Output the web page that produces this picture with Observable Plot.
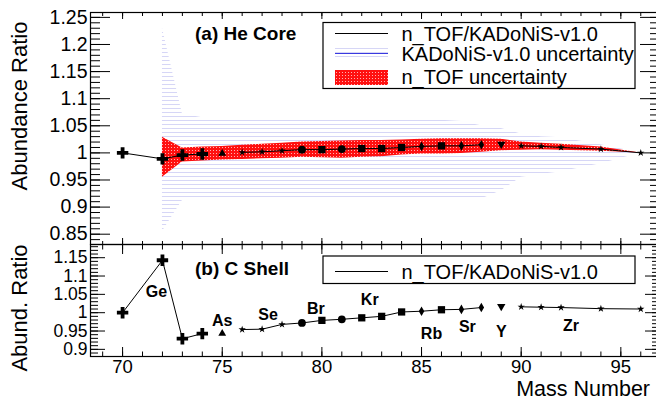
<!DOCTYPE html>
<html><head><meta charset="utf-8">
<script src="https://cdn.jsdelivr.net/npm/d3@7"></script>
<script src="https://cdn.jsdelivr.net/npm/@observablehq/plot@0.6"></script>
<style>
body{margin:0;background:#fff;}
#chart{position:relative;width:656px;height:401px;overflow:hidden;font-family:"Liberation Sans",Arial,sans-serif;background:#fff;}
#chart svg{position:absolute;left:0;}
</style></head><body><div id="chart"></div>
<script>
// ---- data ----
const massNumber   = [70,72,73,74,75,76,77,78,79,80,81,82,83,84,85,86,87,88,89,90,91,92,94,96];
const markerSymbol = ["cross","cross","cross","cross","triangle","star","star","star","circle","square","circle","square","square","square","diamond","square","diamond","diamond","triangleDown","star","star","star","star","star"];
const lineSegment  = [1,1,1,1,2,3,3,3,3,3,3,3,3,3,3,3,3,3,4,5,5,5,5,5];
const heCoreRatio  = [1.000,0.989,0.996,0.998,0.999,1.001,1.002,1.004,1.006,1.006,1.007,1.008,1.008,1.010,1.012,1.013,1.013,1.015,1.016,1.013,1.012,1.010,1.007,1.000];
const nTOFHigh     = [null,1.029,1.009,1.011,1.012,1.014,1.016,1.018,1.020,1.021,1.022,1.023,1.023,1.024,1.025,1.026,1.026,1.026,1.025,1.020,1.018,1.016,1.011,1.000];
const nTOFLow      = [null,0.955,0.983,0.985,0.987,0.988,0.989,0.990,0.992,0.991,0.990,0.992,0.993,0.996,0.998,0.998,0.999,1.001,1.004,1.005,1.006,1.005,1.003,1.000];
const kadonisHigh  = [null,1.230,1.072,1.065,1.062,1.060,1.060,1.060,1.060,1.060,1.060,1.060,1.060,1.060,1.060,1.060,1.058,1.050,1.045,1.035,1.030,1.028,1.015,1.000];
const kadonisLow   = [null,0.855,0.912,0.915,0.915,0.915,0.915,0.915,0.915,0.915,0.915,0.915,0.915,0.915,0.915,0.915,0.913,0.915,0.930,0.955,0.960,0.965,0.980,1.000];
const cShellRatio  = [1.000,1.143,0.929,0.943,0.943,0.954,0.955,0.968,0.972,0.979,0.982,0.986,0.990,1.002,1.004,1.008,1.009,1.014,1.017,1.016,1.015,1.014,1.011,1.010];
const elementNames      = ["Ge","As","Se","Br","Kr","Rb","Sr","Y","Zr"];
const elementLabelMass  = [71.7,75,77.3,79.7,82.4,85.5,87.3,89,92.5];
const elementLabelRatio = [1.056,0.979,0.993,1.011,1.034,0.943,0.961,0.947,0.963];
const xTickLabels       = [70,75,80,85,90,95];
const yTickLabelsTop    = [0.85,0.9,0.95,1,1.05,1.1,1.15,1.2,1.25];
const yTickLabelsBottom = [0.9,0.95,1,1.05,1.1,1.15];
const xDomain = [68.39, 96.94];
const yDomainTop = [0.831, 1.259];
const yDomainBottom = [0.8805, 1.186];

const rows = massNumber.map((m,i)=>({mass:m, marker:markerSymbol[i], seg:lineSegment[i],
  he:heCoreRatio[i], nHi:nTOFHigh[i], nLo:nTOFLow[i], kHi:kadonisHigh[i], kLo:kadonisLow[i], c:cShellRatio[i]}));
const labels = elementNames.map((n,i)=>({name:n, mass:elementLabelMass[i], ratio:elementLabelRatio[i]}));

const xMinor = d3.range(69, 97, 1);
const yMinorTop = d3.range(84, 126).map(v=>v/100);
const yMinorBottom = d3.range(89, 119).map(v=>v/100);
const fmt = d => String(+d.toFixed(2));

const markerSize = {cross:4.8, triangle:2.9, star:2.3, circle:3.9, square:4.1, diamond:2.9, triangleDown:3.1};
function dotMarks(yField){
  return Object.keys(markerSize).map(t => Plot.dot(rows.filter(d=>d.marker===t), {
    x:"mass", y:yField, symbol: t==="triangleDown" ? "triangle" : t, rotate: t==="triangleDown" ? 180 : 0,
    r: markerSize[t], fill:"black", stroke:"none"}));
}
function tickMarks(yMajor, yMinor, yLen, xLen, xLenTop, labelSize){
  return [
    Plot.axisY(yMajor, {anchor:"left", tickSize:-yLen[0], text:null, label:null}),
    Plot.axisY(yMinor, {anchor:"left", tickSize:-yLen[1], text:null, label:null}),
    Plot.axisY(yMajor, {anchor:"right", tickSize:-yLen[0], text:null, label:null}),
    Plot.axisY(yMinor, {anchor:"right", tickSize:-yLen[1], text:null, label:null}),
    Plot.axisX(xTickLabels, {anchor:"bottom", tickSize:-xLen[0], text:null, label:null}),
    Plot.axisX(xMinor, {anchor:"bottom", tickSize:-xLen[1], text:null, label:null}),
    Plot.axisX(xTickLabels, {anchor:"top", tickSize:-xLenTop[0], text:null, label:null}),
    Plot.axisX(xMinor, {anchor:"top", tickSize:-xLenTop[1], text:null, label:null}),
    Plot.axisY(yMajor, {anchor:"left", tickSize:0, tickPadding:3, tickFormat:fmt, label:null, fontSize:labelSize})
  ];
}
const baseStyle = {fontFamily:"'Liberation Sans', Arial, sans-serif", fontSize:"19.5px", background:"transparent", overflow:"visible", color:"black"};

// ---- top panel ----
const topPlot = Plot.plot({
  width:656, height:250, marginLeft:90, marginRight:-3, marginTop:12, marginBottom:6,
  style: baseStyle,
  x:{domain:xDomain}, y:{domain:yDomainTop},
  marks:[
    Plot.areaY(rows, {x:"mass", y1:"kLo", y2:"kHi", fill:"url(#hatchBlue)"}),
    Plot.areaY(rows, {x:"mass", y1:"nLo", y2:"nHi", fill:"url(#dotRed)"}),
    Plot.line(rows, {x:"mass", y:"he", z:"seg", stroke:"black", strokeWidth:1}),
    ...dotMarks("he"),
    ...tickMarks(yTickLabelsTop, yMinorTop, [20,10], [6,3], [6,3], 19.5),
    Plot.frame({stroke:"black", strokeWidth:1.2})
  ]
});
const bottomPlot = Plot.plot({
  width:656, height:169, marginLeft:90, marginRight:-3, marginTop:12, marginBottom:45,
  style: baseStyle,
  x:{domain:xDomain}, y:{domain:yDomainBottom},
  marks:[
    Plot.line(rows, {x:"mass", y:"c", z:"seg", stroke:"black", strokeWidth:1}),
    ...dotMarks("c"),
    Plot.text(labels, {x:"mass", y:"ratio", text:"name", fontWeight:"bold", fontSize:16, fill:"black"}),
    ...tickMarks(yTickLabelsBottom, yMinorBottom, [15,8], [9,4.5], [9,4.5], 17.5),
    Plot.axisX(xTickLabels, {anchor:"bottom", tickSize:0, tickPadding:3.3, label:null, fontSize:18.5}),
    Plot.frame({stroke:"black", strokeWidth:1.2})
  ]
});
topPlot.style.top = "0px";
bottomPlot.style.top = "232px";
const chart = document.getElementById("chart");
chart.appendChild(topPlot);
chart.appendChild(bottomPlot);

// patterns
const ts = d3.select(topPlot);
const defs = ts.insert("defs", ":first-child");
const hb = defs.append("pattern").attr("id","hatchBlue").attr("patternUnits","userSpaceOnUse").attr("width",8).attr("height",4);
hb.append("rect").attr("x",0).attr("y",0).attr("width",8).attr("height",1).attr("fill","#d6d6f6");
const dr = defs.append("pattern").attr("id","dotRed").attr("patternUnits","userSpaceOnUse").attr("width",3).attr("height",3);
dr.append("rect").attr("width",3).attr("height",3).attr("fill","#ff1010");
dr.append("rect").attr("x",0).attr("y",0).attr("width",1).attr("height",1).attr("fill","#ffb0b0");

// annotations / legends
function txt(sel, x, y, s, opts={}){
  const t = sel.append("text").attr("x",x).attr("y",y).text(s)
    .attr("font-family","'Liberation Sans', Arial, sans-serif").attr("fill","black")
    .attr("font-size", opts.size||20)
    .attr("text-anchor", opts.anchor || "start");
  if (opts.bold) t.attr("font-weight","bold");
  if (opts.rotate) t.attr("transform", `rotate(${opts.rotate},${x},${y})`);
  return t;
}
txt(ts, 195, 40, "(a) He Core", {bold:true, size:19});
txt(ts, 27, 106, "Abundance Ratio", {size:22, anchor:"middle", rotate:-90});
const lg = ts.append("g");
lg.append("rect").attr("x",323).attr("y",22.5).attr("width",312).attr("height",66).attr("fill","white").attr("stroke","black").attr("stroke-width",1.2);
lg.append("line").attr("x1",335).attr("x2",388).attr("y1",33.5).attr("y2",33.5).attr("stroke","black");
txt(lg, 401.5, 40.5, "n_TOF/KADoNiS-v1.0");
lg.append("rect").attr("x",335).attr("y",48).attr("width",53).attr("height",12).attr("fill","url(#hatchBlue)");
lg.append("line").attr("x1",335).attr("x2",388).attr("y1",53.5).attr("y2",53.5).attr("stroke","#3a3ae0");
txt(lg, 401.5, 60.5, "KADoNiS-v1.0 uncertainty");
lg.append("rect").attr("x",335).attr("y",70).attr("width",53).attr("height",15).attr("fill","url(#dotRed)");
txt(lg, 401.5, 83.5, "n_TOF uncertainty");

const bs = d3.select(bottomPlot);
txt(bs, 195, 43, "(b) C Shell", {bold:true, size:19});
txt(bs, 27, 76, "Abund. Ratio", {size:22, anchor:"middle", rotate:-90});
txt(bs, 650, 164.3, "Mass Number", {size:21.5, anchor:"end"});
const lg2 = bs.append("g");
lg2.append("rect").attr("x",323).attr("y",24).attr("width",312).attr("height",27.5).attr("fill","white").attr("stroke","black").attr("stroke-width",1.2);
lg2.append("line").attr("x1",335).attr("x2",388).attr("y1",39.5).attr("y2",39.5).attr("stroke","black");
txt(lg2, 401.5, 46.5, "n_TOF/KADoNiS-v1.0");
</script></body></html>
